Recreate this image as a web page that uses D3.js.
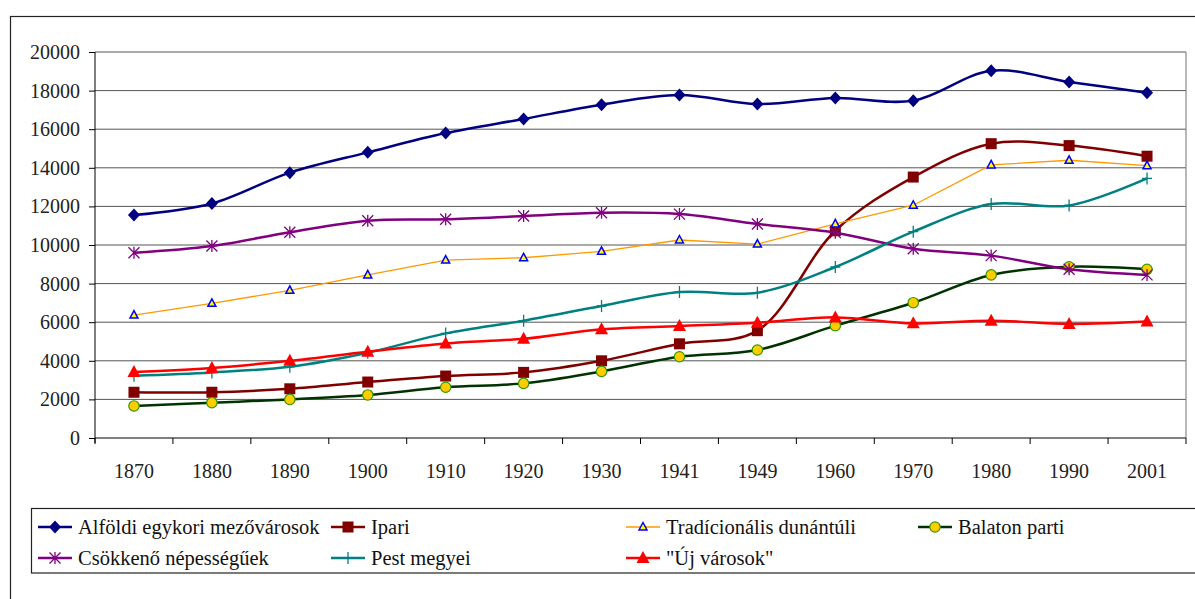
<!DOCTYPE html>
<html>
<head>
<meta charset="utf-8">
<script src="https://cdn.jsdelivr.net/npm/d3@7"></script>
<style>
  body { margin: 0; background: #fff; }
  svg { display: block; font-family: "Liberation Serif", "DejaVu Serif", serif; }
</style>
</head>
<body>
<div id="chart"></div>
<script>
const years = ['1870', '1880', '1890', '1900', '1910', '1920', '1930', '1941', '1949', '1960', '1970', '1980', '1990', '2001'];
const yTicks = [0, 2000, 4000, 6000, 8000, 10000, 12000, 14000, 16000, 18000, 20000];

const alfoldi = [11550, 12150, 13750, 14800, 15800, 16530, 17270, 17770, 17300, 17620, 17480, 19030, 18450, 17890];
const ipari = [2370, 2370, 2550, 2900, 3210, 3400, 4000, 4880, 5560, 10740, 13520, 15250, 15150, 14600];
const tradicionalis = [6370, 6980, 7650, 8450, 9220, 9340, 9670, 10260, 10050, 11090, 12060, 14150, 14390, 14110];
const balaton = [1660, 1830, 2000, 2230, 2630, 2830, 3450, 4210, 4560, 5820, 7010, 8450, 8870, 8740];
const csokkeno = [9600, 9950, 10660, 11260, 11330, 11500, 11670, 11600, 11090, 10640, 9810, 9450, 8740, 8450];
const pest = [3230, 3400, 3690, 4420, 5420, 6080, 6840, 7560, 7530, 8860, 10690, 12120, 12050, 13450];
const ujVarosok = [3420, 3630, 4000, 4470, 4900, 5140, 5630, 5800, 5970, 6250, 5940, 6080, 5910, 6030];

const seriesNames = ['Alföldi egykori mezővárosok', 'Ipari', 'Tradícionális dunántúli', 'Balaton parti',
  'Csökkenő népességűek', 'Pest megyei', '"Új városok"'];
const seriesValues = [alfoldi, ipari, tradicionalis, balaton, csokkeno, pest, ujVarosok];

// styling per series (same order as names)
const styles = [
  { line: '#000080', width: 2.5, marker: 'diamond', fill: '#000080', stroke: '#000080', smooth: true },
  { line: '#800000', width: 2.5, marker: 'square', fill: '#800000', stroke: '#800000', smooth: true },
  { line: '#FF9900', width: 1.3, marker: 'triangleSmall', fill: '#FFFF00', stroke: '#0000FF', smooth: false },
  { line: '#003300', width: 2.5, marker: 'circle', fill: '#FFCC00', stroke: '#339900', smooth: true },
  { line: '#800080', width: 2.5, marker: 'star', fill: 'none', stroke: '#800080', smooth: true },
  { line: '#008080', width: 2.5, marker: 'plus', fill: 'none', stroke: '#008080', smooth: true },
  { line: '#FF0000', width: 2.5, marker: 'triangle', fill: '#FF0000', stroke: '#FF0000', smooth: true }
];

const W = 1195, H = 599;
const svg = d3.select('#chart').append('svg').attr('width', W).attr('height', H);

// outer chart frame (continues past the right/bottom edge)
svg.append('rect').attr('x', 10.5).attr('y', 16.5).attr('width', 1200).attr('height', 700)
  .attr('fill', 'none').attr('stroke', '#222').attr('stroke-width', 1.2);

const plot = { left: 95, right: 1186, top: 52, bottom: 438 };

const xBand = d3.scaleBand().domain(years).range([plot.left, plot.right]);
const x = d => xBand(d) + xBand.bandwidth() / 2;
const y = d3.scaleLinear().domain([0, 20000]).range([plot.bottom, plot.top]);

// gridlines
svg.append('g').selectAll('line').data(yTicks.filter(v => v > 0)).join('line')
  .attr('x1', plot.left).attr('x2', plot.right)
  .attr('y1', d => y(d)).attr('y2', d => y(d))
  .attr('stroke', '#555').attr('stroke-width', 1);

// plot area right border
svg.append('line').attr('x1', plot.right).attr('x2', plot.right)
  .attr('y1', plot.top).attr('y2', plot.bottom).attr('stroke', '#888').attr('stroke-width', 1.2);

// y axis
const yAxis = svg.append('g').attr('transform', `translate(${plot.left},0)`)
  .call(d3.axisLeft(y).tickValues(yTicks).tickSize(6).tickPadding(9).tickFormat(d3.format('d')));
yAxis.select('.domain').attr('stroke', '#000').attr('d', `M0,${plot.top}V${plot.bottom + 5}`);
yAxis.selectAll('.tick line').attr('stroke', '#000');
yAxis.selectAll('text').attr('font-size', 20).attr('fill', '#222').attr('font-family', 'Liberation Serif');

// x axis: ticks at category boundaries
const xg = svg.append('g');
xg.append('line').attr('x1', plot.left).attr('x2', plot.right)
  .attr('y1', plot.bottom).attr('y2', plot.bottom).attr('stroke', '#000');
const bounds = years.map(d => xBand(d)).concat([plot.right]);
xg.selectAll('line.tk').data(bounds).join('line').attr('class', 'tk')
  .attr('x1', d => d).attr('x2', d => d)
  .attr('y1', plot.bottom).attr('y2', plot.bottom + 6).attr('stroke', '#000');
xg.selectAll('text').data(years).join('text')
  .attr('x', d => x(d)).attr('y', 471).attr('dy', '0.35em')
  .attr('text-anchor', 'middle').attr('font-size', 20).attr('fill', '#222')
  .text(d => d);

// marker drawing
function drawMarker(sel, type, st) {
  if (type === 'diamond') {
    sel.append('path').attr('d', 'M0,-6.5L6,0L0,6.5L-6,0Z').attr('fill', st.fill);
  } else if (type === 'square') {
    sel.append('rect').attr('x', -5.5).attr('y', -5.5).attr('width', 11).attr('height', 11)
      .attr('fill', st.fill);
  } else if (type === 'triangleSmall') {
    sel.append('path').attr('d', 'M0,-4.5L4,3L-4,3Z').attr('fill', st.fill)
      .attr('stroke', st.stroke).attr('stroke-width', 1.5);
  } else if (type === 'circle') {
    sel.append('circle').attr('r', 5.2).attr('fill', st.fill)
      .attr('stroke', st.stroke).attr('stroke-width', 1.2);
  } else if (type === 'star') {
    sel.append('path').attr('d', 'M-5.5,-5.5L5.5,5.5M-5.5,5.5L5.5,-5.5M0,-6L0,6')
      .attr('stroke', st.stroke).attr('stroke-width', 1.3);
  } else if (type === 'plus') {
    sel.append('path').attr('d', 'M0,-6L0,6M-5,0L5,0')
      .attr('stroke', st.stroke).attr('stroke-width', 1.3);
  } else if (type === 'triangle') {
    sel.append('path').attr('d', 'M0,-7L6.5,5L-6.5,5Z').attr('fill', st.fill);
  }
}

// series
seriesValues.forEach((vals, i) => {
  const st = styles[i];
  const line = d3.line()
    .x((d, j) => x(years[j]))
    .y(d => y(d))
    .curve(st.smooth ? d3.curveCatmullRom.alpha(0.5) : d3.curveLinear);
  const g = svg.append('g');
  g.append('path').datum(vals).attr('d', line)
    .attr('fill', 'none').attr('stroke', st.line).attr('stroke-width', st.width)
    .attr('stroke-linejoin', 'round');
  g.selectAll('g.m').data(vals).join('g').attr('class', 'm')
    .attr('transform', (d, j) => `translate(${x(years[j])},${y(d)})`)
    .each(function () { drawMarker(d3.select(this), st.marker, st); });
});

// legend
svg.append('rect').attr('x', 31.5).attr('y', 508.5).attr('width', 1200).attr('height', 64.5)
  .attr('fill', '#fff').attr('stroke', '#222').attr('stroke-width', 1.2);

const legendCols = [38, 331, 626, 918];
const legendRows = [527, 558];
seriesNames.forEach((name, i) => {
  const col = i % 4, row = Math.floor(i / 4);
  const st = styles[i];
  const lx = legendCols[col], ly = legendRows[row];
  const g = svg.append('g');
  g.append('line').attr('x1', lx).attr('x2', lx + 34).attr('y1', ly).attr('y2', ly)
    .attr('stroke', st.line).attr('stroke-width', st.width);
  const m = g.append('g').attr('transform', `translate(${lx + 17},${ly})`);
  drawMarker(m, st.marker, st);
  g.append('text').attr('x', lx + 40).attr('y', ly).attr('dy', '0.35em')
    .attr('font-size', 20.5).attr('fill', '#111').text(name);
});
</script>
</body>
</html>
